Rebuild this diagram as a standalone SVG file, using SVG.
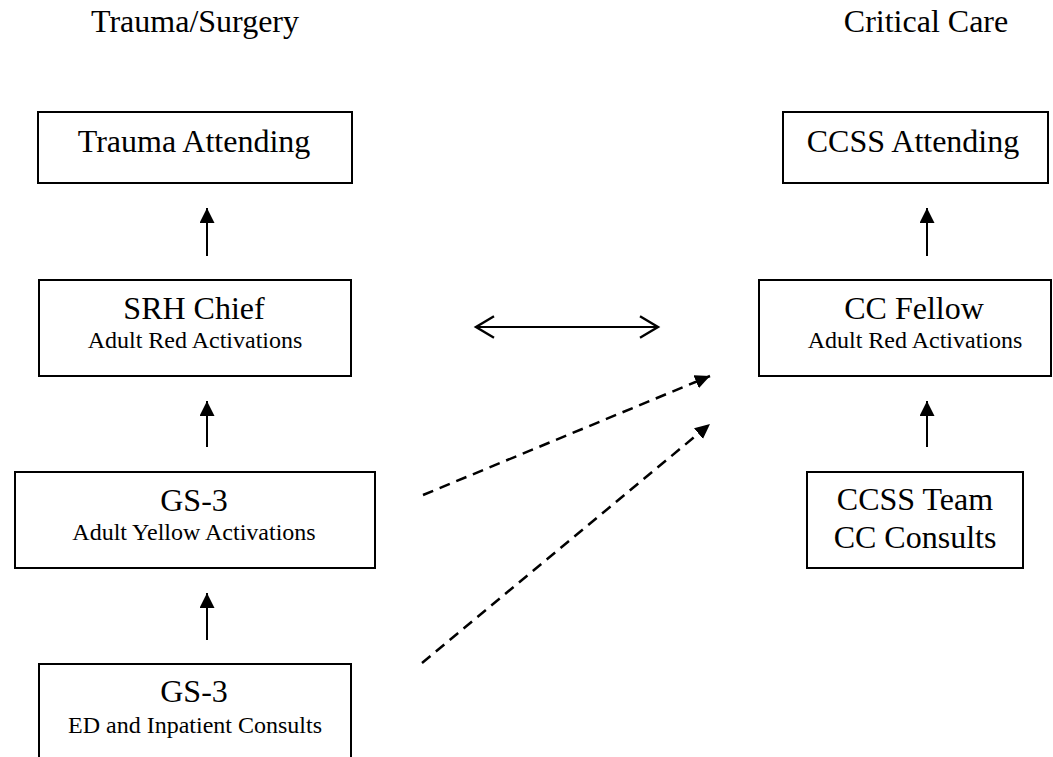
<svg xmlns="http://www.w3.org/2000/svg" width="1053" height="757" viewBox="0 0 1053 757">
<style>
.box{fill:#fff;stroke:#000;stroke-width:2}
text{font-family:'Liberation Serif','Times New Roman',Times,'DejaVu Serif',serif;fill:#000;text-anchor:middle}
.big{font-size:32px}
.small{font-size:24px}
.solid{stroke:#000;stroke-width:2;fill:none}
.dash{stroke:#000;stroke-width:2.5;fill:none;stroke-dasharray:11 7}
.dbl{stroke:#000;stroke-width:2.2;fill:none}
</style>
<defs>
<marker id="tri" markerUnits="userSpaceOnUse" markerWidth="16" markerHeight="16" refX="15" refY="7.5" orient="auto">
<path d="M0,0 L15,7.5 L0,15 z" fill="#000"/>
</marker>
<marker id="tri2" markerUnits="userSpaceOnUse" markerWidth="16" markerHeight="16" refX="15" refY="7" orient="auto">
<path d="M0,0 L15,7 L0,14 z" fill="#000"/>
</marker>
<marker id="chev" markerUnits="userSpaceOnUse" markerWidth="24" markerHeight="26" refX="20" refY="12" orient="auto-start-reverse">
<path d="M2,1.3 L20,12 L2,22.7" fill="none" stroke="#000" stroke-width="2.4"/>
</marker>
</defs>
<g id="titles" font-family="Liberation Serif, serif">
<text class="big" x="195" y="32">Trauma/Surgery</text>
<text class="big" x="926" y="32">Critical Care</text>
</g>
<g id="trauma-attending" font-family="Liberation Serif, serif">
<rect class="box" x="38" y="112" width="314" height="71"/>
<text class="big" x="194" y="152">Trauma Attending</text>
</g>
<g id="ccss-attending" font-family="Liberation Serif, serif">
<rect class="box" x="783" y="112" width="265" height="71"/>
<text class="big" x="913" y="152">CCSS Attending</text>
</g>
<g id="srh-chief" font-family="Liberation Serif, serif">
<rect class="box" x="39" y="280" width="312" height="96"/>
<text class="big" x="194" y="319">SRH Chief</text>
<text class="small" x="195" y="348">Adult Red Activations</text>
</g>
<g id="cc-fellow" font-family="Liberation Serif, serif">
<rect class="box" x="759" y="280" width="292" height="96"/>
<text class="big" x="914" y="319">CC Fellow</text>
<text class="small" x="915" y="348">Adult Red Activations</text>
</g>
<g id="gs3-yellow" font-family="Liberation Serif, serif">
<rect class="box" x="15" y="472" width="360" height="96"/>
<text class="big" x="194" y="511">GS-3</text>
<text class="small" x="194" y="540">Adult Yellow Activations</text>
</g>
<g id="ccss-team" font-family="Liberation Serif, serif">
<rect class="box" x="807" y="472" width="216" height="96"/>
<text class="big" x="915" y="510">CCSS Team</text>
<text class="big" x="915" y="548">CC Consults</text>
</g>
<g id="gs3-consults" font-family="Liberation Serif, serif">
<rect class="box" x="39" y="664" width="312" height="110"/>
<text class="big" x="194" y="702">GS-3</text>
<text class="small" x="195" y="733">ED and Inpatient Consults</text>
</g>
<g id="connectors">
<line class="solid" x1="207" y1="256" x2="207" y2="208" marker-end="url(#tri)"/>
<line class="solid" x1="927" y1="256" x2="927" y2="208" marker-end="url(#tri)"/>
<line class="solid" x1="207" y1="447" x2="207" y2="401" marker-end="url(#tri)"/>
<line class="solid" x1="927" y1="447" x2="927" y2="401" marker-end="url(#tri)"/>
<line class="solid" x1="207" y1="640" x2="207" y2="593" marker-end="url(#tri)"/>
<line class="dbl" x1="476" y1="327" x2="658" y2="327" marker-start="url(#chev)" marker-end="url(#chev)"/>
<line class="dash" x1="423" y1="495" x2="710" y2="376" marker-end="url(#tri2)"/>
<line class="dash" x1="422" y1="663" x2="710" y2="424" marker-end="url(#tri2)"/>
</g>
</svg>
